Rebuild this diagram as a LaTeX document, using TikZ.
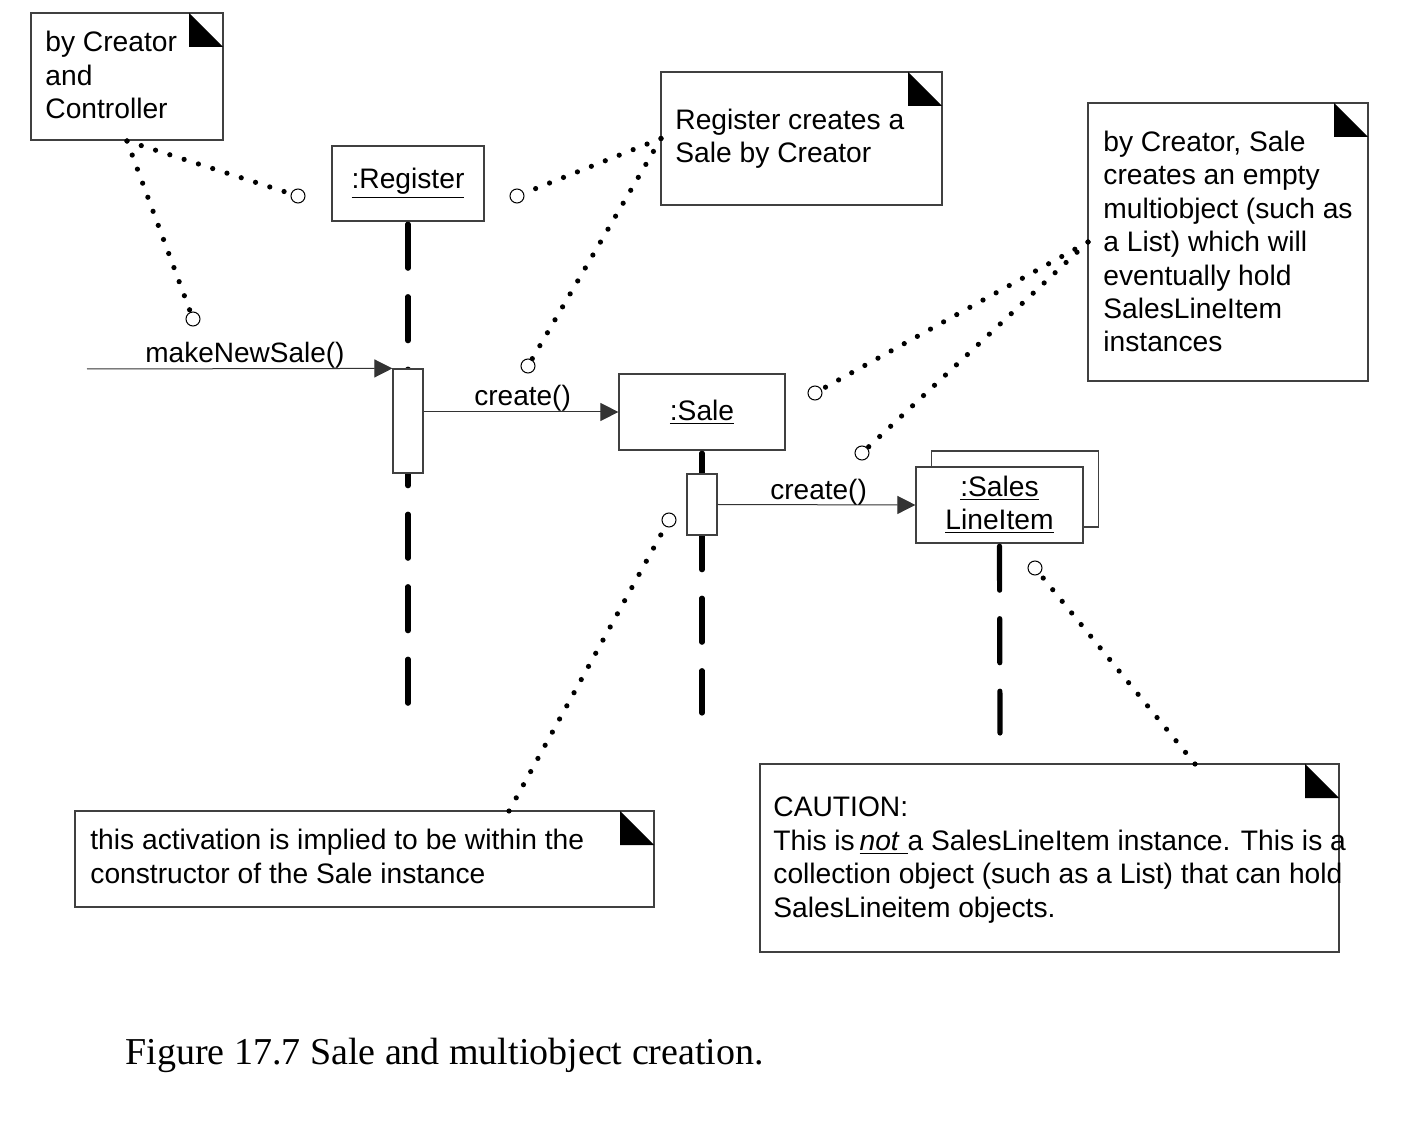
\documentclass[tikz,border=0pt]{standalone}
\usepackage{fontspec}
\setmainfont{Liberation Sans}
\newfontfamily\capfont{Liberation Serif}
\usetikzlibrary{arrows.meta}
\newcommand\notecorner[1]{\fill ([xshift=-17pt]#1.north east) -- ([yshift=-17pt]#1.north east) -- ([xshift=-17pt,yshift=-17pt]#1.north east) -- cycle;}
\tikzset{
  notebox/.style={draw=black!75, line width=0.6pt, fill=white, anchor=north west, inner sep=0pt, outer sep=0pt},
  notetext/.style={anchor=base west, inner sep=0pt, align=left, font=\fontsize{14.1}{16.7}\selectfont},
  objbox/.style={draw=black!75, line width=0.6pt, fill=white, inner sep=0pt, align=center, font=\fontsize{14.1}{16.7}\selectfont},
  actbox/.style={draw=black!75, line width=0.6pt, fill=white, inner sep=0pt, minimum width=15pt},
  lifeline/.style={line width=2.6pt, line cap=round, dash pattern=on 22pt off 14.25pt},
  msg/.style={draw=black!80, line width=0.5pt, -{Triangle[length=9pt,width=9pt]}},
  msglabel/.style={anchor=base west, inner sep=0pt, font=\fontsize{14}{16.7}\selectfont},
  dotline/.style={line width=2.6pt, line cap=round, dash pattern=on 0pt off 7.5pt},
  ring/.style={circle, draw=black, line width=0.5pt, fill=white, minimum size=7pt, inner sep=0pt}
}
\begin{document}
\begin{tikzpicture}[x=0.5pt,y=-0.5pt]
\useasboundingbox[fill=white] (0,0) rectangle (1426,1144);

% notes
\node[notebox, minimum width=96pt, minimum height=63.5pt] (N1) at (31,13) {};
\node[notebox, minimum width=140.5pt, minimum height=66.5pt] (N2) at (661,72) {};
\node[notebox, minimum width=140pt, minimum height=139pt] (N3) at (1088,103) {};
\node[notebox, minimum width=289.5pt, minimum height=48pt] (N4) at (75,811) {};
\node[notebox, minimum width=289.5pt, minimum height=94pt] (N5) at (760,764) {};
\notecorner{N1}
\notecorner{N2}
\notecorner{N3}
\notecorner{N4}
\notecorner{N5}

% note texts (anchored at the baseline of their last line)
\node[notetext] (t1) at (45,118.5) {by Creator\\and\\Controller};
\node[notetext] (t2) at (675,163) {Register creates a\\Sale by Creator};
\node[notetext] (t3) at (1103,352) {by Creator, Sale\\creates an empty\\multiobject (such as\\a List) which will\\eventually hold\\SalesLineItem\\instances};
\node[notetext] (t4) at (90,883) {this activation is implied to be within the\\constructor of the Sale instance};
\node[notetext] (t5) at (773,917) {CAUTION:\\This is\,\underline{\textit{not}\ }a SalesLineItem instance. This is a\\collection object (such as a List) that can hold\\SalesLineitem objects.};

% objects
\node[objbox, minimum width=76pt, minimum height=37.5pt] (Reg) at (408,183.5) {\underline{:Register}};
\node[objbox, minimum width=83pt, minimum height=38pt] (Sale) at (702,412) {\underline{:Sale}};
\node[objbox, minimum width=83.5pt, minimum height=38pt] (SLIback) at (1015,489) {};
\node[objbox, minimum width=83.5pt, minimum height=38pt] (SLI) at (999.5,505) {\underline{:Sales}\\\underline{LineItem}};

% lifelines
\coordinate (RegEnd) at (408,705);
\coordinate (SaleEnd) at (702,713);
\coordinate (SLIEnd) at (1000,733);
\draw[lifeline] ([yshift=-1.3pt]Reg.south) -- (RegEnd);
\draw[lifeline] ([yshift=-1.3pt]Sale.south) -- (SaleEnd);
\draw[lifeline] ([yshift=-1.3pt]SLI.south) -- (SLIEnd);

% activations
\node[actbox, minimum height=52pt] (A1) at (408,421) {};
\node[actbox, minimum height=30.5pt] (A2) at (702,504.5) {};

% messages
\coordinate (start) at (87,369);
\draw[msg] (start) -- (A1.north west);
\draw[msg] (A1.east |- Sale.west) -- (Sale.west);
\draw[msg] (A2.east) -- (SLI.west);
\node[msglabel] (m1) at (145,363) {makeNewSale()};
\node[msglabel] (m2) at (474,406) {create()};
\node[msglabel] (m3) at (770,500) {create()};

% anchor circles
\node[ring] (c1) at (298,196) {};
\node[ring] (c2) at (193,319) {};
\node[ring] (c3) at (517,196) {};
\node[ring] (c4) at (528,366) {};
\node[ring] (c5) at (815,393) {};
\node[ring] (c6) at (862,453) {};
\node[ring] (c7) at (669,520) {};
\node[ring] (c8) at (1035,568) {};

% dotted connectors
\coordinate (p1) at ([xshift=48pt,yshift=-0.5pt]N1.south west);
\coordinate (p2) at (N2.west);
\coordinate (p3) at (N3.west);
\coordinate (p4) at ([xshift=217pt]N4.north west);
\coordinate (p5) at ([xshift=217.5pt]N5.north west);
\draw[dotline] (p1) -- (c1);
\draw[dotline] (p1) -- (c2);
\draw[dotline] (p2) -- (c3);
\draw[dotline] (p2) -- (c4);
\draw[dotline] (p3) -- (c5);
\draw[dotline] (p3) -- (c6);
\draw[dotline] (p4) -- (c7);
\draw[dotline] (p5) -- (c8);

% caption
\node[anchor=base west, inner sep=0pt, font=\capfont\fontsize{19}{23}\selectfont] (cap) at (125,1064) {Figure 17.7 Sale and multiobject creation.};
\end{tikzpicture}
\end{document}
